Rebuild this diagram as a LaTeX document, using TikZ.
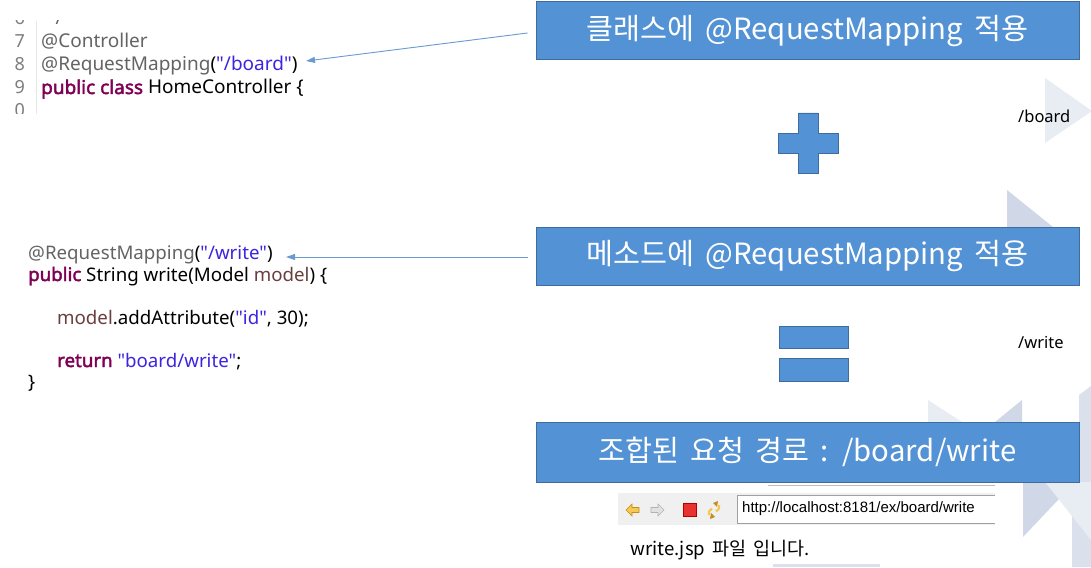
\documentclass[tikz,border=0pt]{standalone}
\usepackage{fontspec}
\setmainfont{Noto Sans}
\newfontfamily\codefont[Ligatures=TeXOff]{Noto Sans}
\newfontfamily\codebold[Ligatures=TeXOff,FakeBold=2.2]{Noto Sans}
\newfontfamily\kr[WordSpace=1.7]{Noto Sans CJK KR}
\newfontfamily\arialfont{Liberation Sans}
\usetikzlibrary{arrows.meta}

\definecolor{boxblue}{RGB}{83,146,213}
\definecolor{boxedge}{RGB}{62,108,158}
\definecolor{pointerblue}{RGB}{105,155,208}
\definecolor{anno}{RGB}{100,100,100}
\definecolor{strblue}{RGB}{60,36,225}
\definecolor{kw}{RGB}{127,0,85}
\definecolor{localvar}{RGB}{106,62,62}
\definecolor{linenum}{RGB}{125,125,125}
\definecolor{gutter}{RGB}{232,232,232}
\definecolor{paleA}{RGB}{232,236,243}
\definecolor{paleB}{RGB}{208,216,231}
\definecolor{paleC}{RGB}{218,225,237}
\definecolor{toolbar}{RGB}{240,240,240}
\definecolor{urlframe}{RGB}{160,160,160}
\definecolor{iconyellow}{RGB}{246,200,80}
\definecolor{iconorange}{RGB}{200,140,30}
\definecolor{icongray}{RGB}{225,225,225}
\definecolor{iconred}{RGB}{232,50,50}

% keyword and string helpers for the code listings
\newcommand{\kwd}[1]{{\codebold\textcolor{kw}{#1}}}
\newcommand{\str}[1]{\textcolor{strblue}{#1}}

\tikzset{
  banner/.style={draw=boxedge, fill=boxblue, line width=1pt, inner sep=0pt,
    minimum width=543pt, text=white, font=\kr\fontsize{29.3}{32}\selectfont},
  sign/.style={draw=boxedge, fill=boxblue, line width=0.8pt},
  code/.style={anchor=base west, inner sep=0pt, font=\codefont\fontsize{19}{21}\selectfont},
  codeB/.style={anchor=base west, inner sep=0pt, font=\codefont\fontsize{18.7}{20}\selectfont},
  lnum/.style={anchor=base west, inner sep=0pt, text=linenum, font=\codefont\fontsize{18}{20}\selectfont},
  pointer/.style={draw=pointerblue, line width=0.9pt, -{Triangle[length=9pt,width=6pt]}},
  pathlabel/.style={anchor=west, inner sep=0pt, font=\codefont\fontsize{16.5}{18}\selectfont},
}

\begin{document}
\begin{tikzpicture}[x=1pt,y=-1pt]
\useasboundingbox (0,0) rectangle (1091,567);
\fill[white] (0,0) rectangle (1091,567);

% pale background triangles on the right
\fill[paleA] (1045,78) -- (1092,111) -- (1045,143) -- cycle;
\fill[paleB] (1007,190) -- (1053,227) -- (1007,227) -- cycle;
\fill[paleA] (928,400) -- (962,422) -- (928,422) -- cycle;
\fill[paleB] (1022,400) -- (1022,422) -- (995,422) -- cycle;
\fill[paleC] (1079,395) -- (1091,386) -- (1091,567) -- (1072,567) -- (1072,482) -- (1079,482) -- cycle;
\fill[paleB] (1023,482) -- (1075,482) -- (1023,537) -- cycle;
\fill[paleA] (1045,482) -- (1091,482) -- (1091,540) -- cycle;

% class-level code
\begin{scope}
  \clip (0,21) rectangle (530,114);
  \draw[gutter] (36,21) -- (36,114);
  \node[lnum] (n6) at (14.5,25) {6};
  \node[code, text=anno] (c6) at (41,25) {\hspace{4pt}*/};
  \node[lnum] (n7) at (14.5,48) {7};
  \node[code] (c7) at (41,48) {\textcolor{anno}{@Controller}};
  \node[lnum] (n8) at (14.5,71) {8};
  \node[code] (c8) at (41,71) {\textcolor{anno}{@RequestMapping}(\str{"/board"})};
  \node[lnum] (n9) at (14.5,94) {9};
  \node[code] (c9) at (41,94) {\kwd{public class} HomeController \{};
  \node[lnum] (n10) at (14.5,117) {0};
\end{scope}

% method-level code
\node[codeB] (m1) at (28,259) {\textcolor{anno}{@RequestMapping}(\str{"/write"})};
\node[codeB] (m2) at (28,281) {\kwd{public} String write(Model \textcolor{localvar}{model}) \{};
\node[codeB] (m3) at (57,324) {\textcolor{localvar}{model}.addAttribute(\str{"id"}, 30);};
\node[codeB] (m4) at (57,367) {\kwd{return} \str{"board/write"};};
\node[codeB] (m5) at (28,388) {\}};

% banners
\node[banner, minimum height=58pt] (box1) at (807.5,31) {클래스에 @RequestMapping 적용};
\node[banner, minimum height=58pt] (box2) at (807.5,256) {메소드에 @RequestMapping 적용};
\node[banner, minimum height=60pt] (box3) at (807.5,452) {조합된 요청 경로 : /board/write};

% plus and equals signs
\path[sign] (798,113) -- (818,113) -- (818,133) -- (838,133) -- (838,153) -- (818,153)
  -- (818,173) -- (798,173) -- (798,153) -- (778,153) -- (778,133) -- (798,133) -- cycle;
\path[sign] (779,326) rectangle (848,348);
\path[sign] (779,358) rectangle (848,381);

% partial path labels
\node[pathlabel] (lbl1) at (1018,116) {/board};
\node[pathlabel] (lbl2) at (1018,342) {/write};

% pointers from banners to the annotations
\coordinate (tip1) at (306,61);
\coordinate (tip2) at (286,257);
\draw[pointer] ([xshift=-8pt,yshift=-2pt]box1.west) -- (tip1);
\draw[pointer] ([xshift=-8pt,yshift=-1pt]box2.west) -- (tip2);

% browser window
\draw[urlframe!70] (768,485) -- (995,485);
\fill[toolbar] (618,493) rectangle (995,525);
\fill[white] (737,495) rectangle (995,523);
\draw[urlframe] (995,495) -- (737,495) -- (737,523) -- (995,523);
\node[anchor=west, inner sep=0pt, font=\arialfont\fontsize{15}{17}\selectfont] (url) at (742,509)
  {http://localhost:8181/ex/board/write};
% toolbar icons
\filldraw[fill=iconyellow, draw=iconorange, line width=0.6pt]
  (626,510) -- (632,504) -- (632,507.5) -- (639,507.5) -- (639,512.5) -- (632,512.5) -- (632,516) -- cycle;
\filldraw[fill=icongray, draw=gray!60, line width=0.6pt]
  (664,510) -- (658,504) -- (658,507.5) -- (651,507.5) -- (651,512.5) -- (658,512.5) -- (658,516) -- cycle;
\filldraw[fill=iconred, draw=red!70!black, line width=0.6pt] (683,503.5) rectangle (696,516.5);
\draw[iconyellow, line width=2.2pt] (709,515) arc[start angle=200, end angle=110, radius=5pt];
\draw[iconyellow, line width=2.2pt] (719,505) arc[start angle=20, end angle=-70, radius=5pt];
\fill[iconorange] (713,503) -- (718,501) -- (717,507) -- cycle;
\fill[iconorange] (715,517) -- (710,519) -- (711,513) -- cycle;

\node[anchor=west, inner sep=0pt, font=\kr\fontsize{18.5}{21}\selectfont] (page) at (630,550)
  {write.jsp 파일 입니다.};
\fill[paleC] (773,564) rectangle (880,567);
\end{tikzpicture}
\end{document}
